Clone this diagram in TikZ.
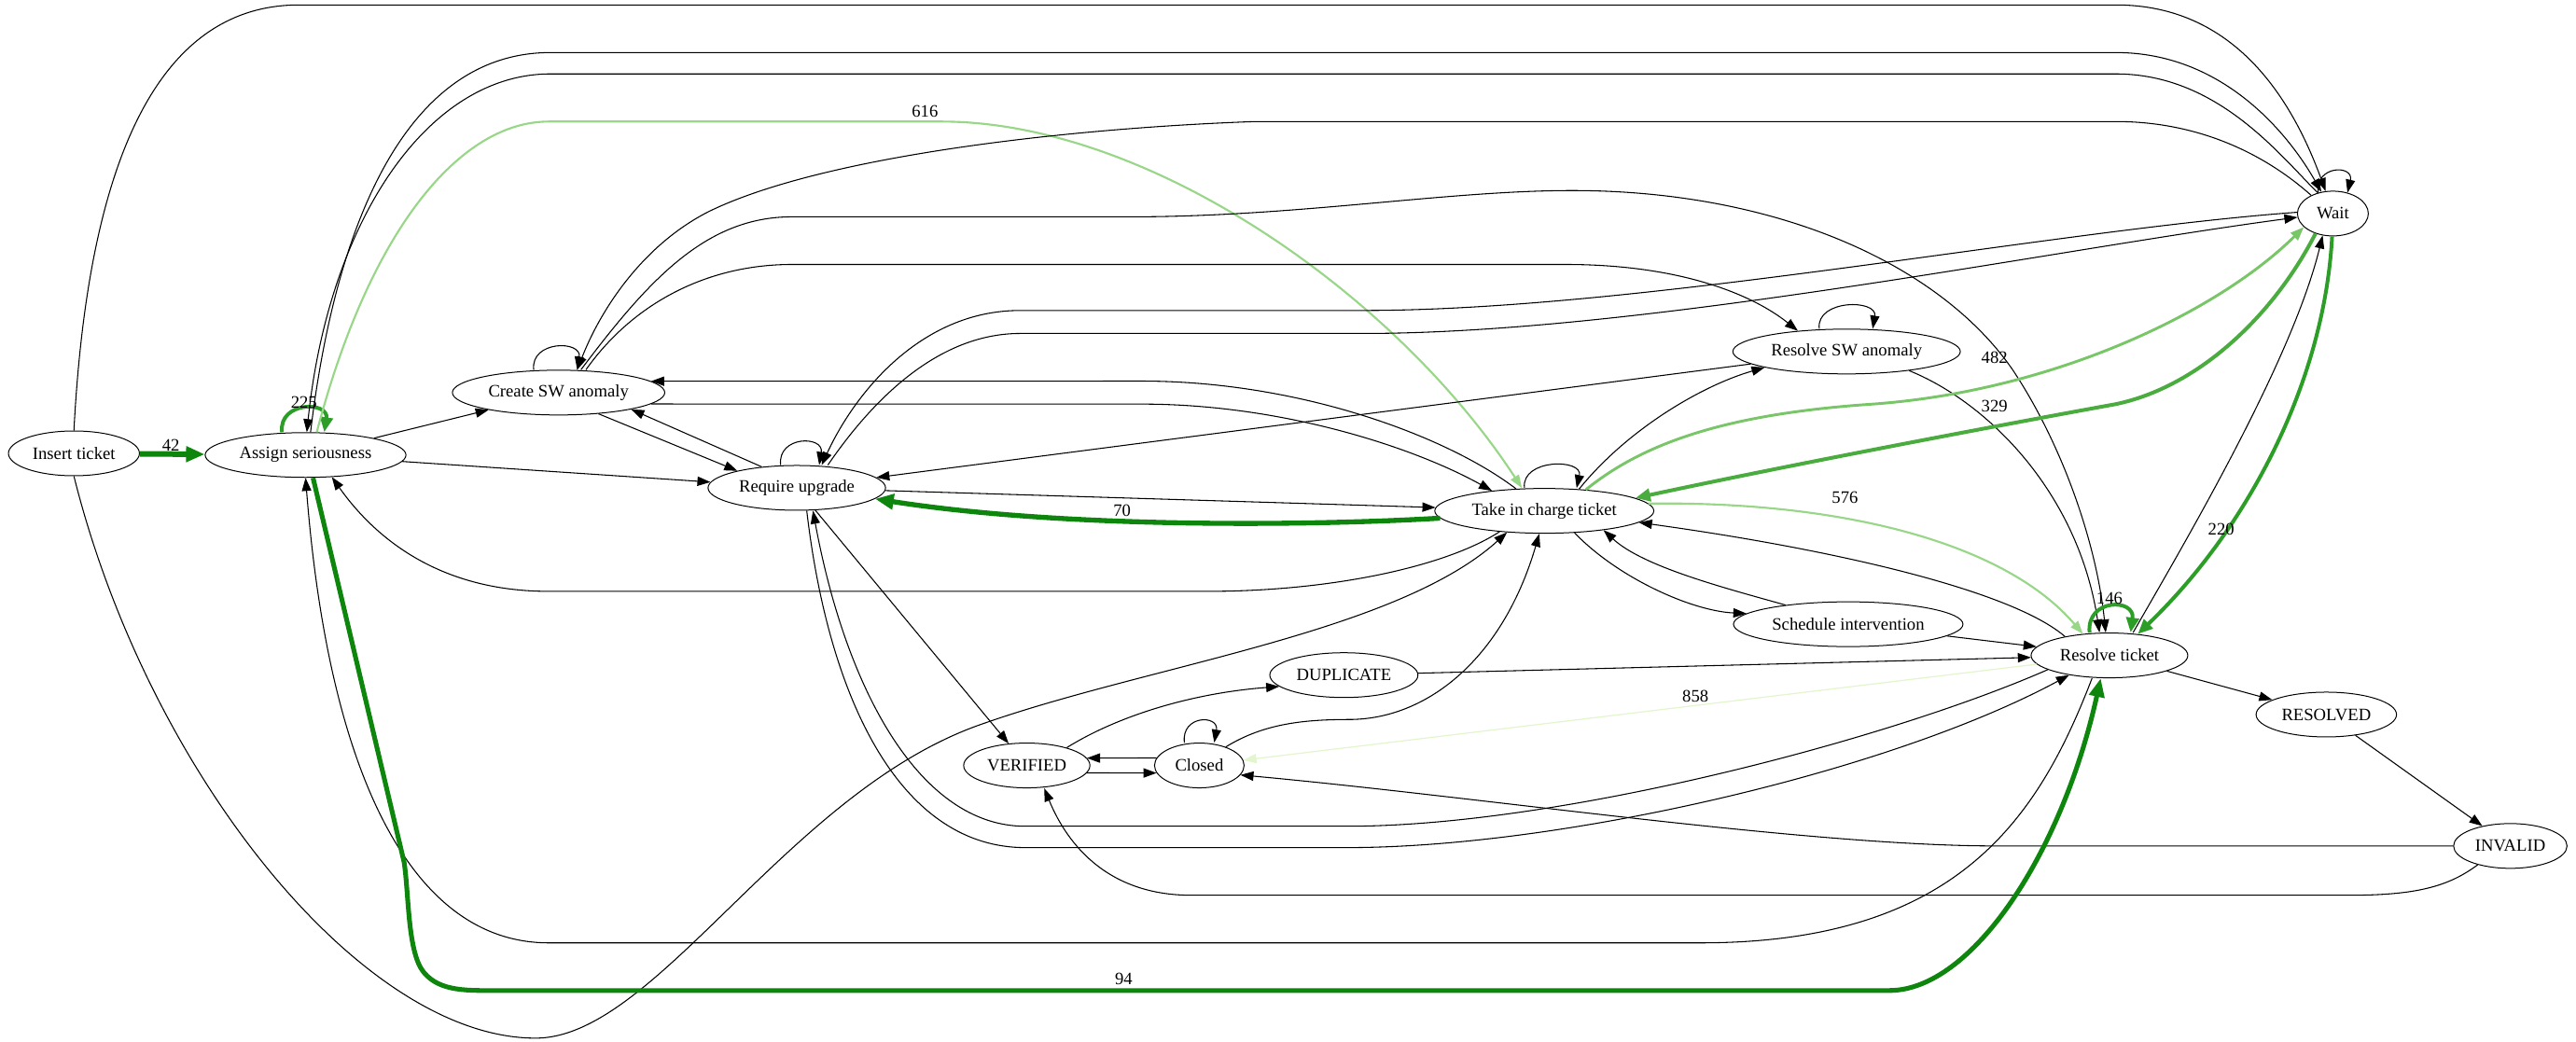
\documentclass[tikz,border=0pt]{standalone}
\usepackage{fontspec}
\setmainfont{Liberation Serif}
\usetikzlibrary{shapes.geometric,arrows.meta}
\definecolor{cdark}{RGB}{14,134,14}
\definecolor{cmid}{RGB}{44,158,40}
\definecolor{cmed}{RGB}{74,172,62}
\definecolor{clight}{RGB}{120,198,104}
\definecolor{cpale}{RGB}{152,214,136}
\definecolor{cfaint}{RGB}{226,245,204}

\begin{document}
\begin{tikzpicture}[x=1.3208pt,y=-1.3208pt,
    state/.style={draw,ellipse,line width=0.75pt,minimum height=36pt,minimum width=54pt,
      inner xsep=4pt,inner ysep=1pt,font=\fontsize{14}{16}\selectfont},
    lbl/.style={inner sep=0pt,font=\fontsize{14}{16}\selectfont},
    tr/.style={line width=0.8pt,-{Triangle[length=10.5pt,width=7.5pt]}},
    gheavy/.style={draw=cdark,line width=4pt,-{Triangle[length=15pt,width=12pt]}},
    gmid/.style={draw=cmid,line width=3pt,-{Triangle[length=12pt,width=10pt]}},
    gmed/.style={draw=cmed,line width=3pt,-{Triangle[length=12pt,width=10pt]}},
    glight/.style={draw=clight,line width=2.2pt,-{Triangle[length=11pt,width=8pt]}},
    gpale/.style={draw=cpale,line width=1.6pt,-{Triangle[length=10.5pt,width=7.5pt]}},
    gfaint/.style={draw=cfaint,line width=0.9pt,-{Triangle[length=10.5pt,width=7.5pt]}}]
    \useasboundingbox (0,0) rectangle (1568,634);

    \node[state] (insert) at (45,276) {Insert ticket};
    \node[state] (assign) at (186,277) {Assign seriousness};
    \node[state] (create) at (340,239) {Create SW anomaly};
    \node[state] (require) at (485,297) {Require upgrade};
    \node[state] (take) at (940,311) {Take in charge ticket};
    \node[state] (resolvesw) at (1124,214) {Resolve SW anomaly};
    \node[state,minimum width=57pt] (wait) at (1420,130) {Wait};
    \node[state] (schedule) at (1125,380) {Schedule intervention};
    \node[state,minimum width=126pt] (resolve) at (1284,399) {Resolve ticket};
    \node[state] (resolved) at (1416,435) {RESOLVED};
    \node[state] (invalid) at (1528,515) {INVALID};
    \node[state] (duplicate) at (818,411) {DUPLICATE};
    \node[state] (verified) at (625,466) {VERIFIED};
    \node[state,minimum width=72pt] (closed) at (730,466) {Closed};

    \draw[gheavy,line width=4.5pt] (insert) -- (assign);
    \node[lbl] (n42) at (104,271) {42};
    \draw[gmid] ([xshift=-19pt]assign.north) .. controls +(-2,-19) and +(3,-19) .. ([xshift=15pt]assign.north);
    \node[lbl] (n225) at (185,245) {225};

    \draw[tr] (insert.north) .. controls (55,70) and (110,3) .. (182,3) -- (1288,3) .. controls (1360,3) and (1395,60) .. (wait.108);
    \draw[tr] ([xshift=4pt]assign.north) .. controls (205,130) and (250,32) .. (335,32) -- (1288,32) .. controls (1352,32) and (1392,80) .. (wait.118);
    \draw[tr] (wait.126) .. controls (1388,95) and (1350,45) .. (1288,45) -- (335,45) .. controls (260,45) and (200,135) .. ([xshift=1pt]assign.north);
    \draw[gpale] ([xshift=9pt]assign.north) .. controls (225,140) and (280,74) .. (334,74) -- (573,74) .. controls (700,74) and (850,180) .. ([xshift=-18pt]take.north);
    \node[lbl] (n616) at (563,68) {616};
    \draw[tr] (wait.140) .. controls (1380,95) and (1340,74) .. (1288,74) -- (764,74) .. controls (650,78) and (500,95) .. (431,129) .. controls (390,150) and (365,190) .. ([xshift=15pt]create.north);

    \draw[tr] ([xshift=-20pt]create.north) .. controls +(-2,-18) and +(3,-18) .. ([xshift=15pt]create.north);
    \draw[tr] ([xshift=18pt]create.north) .. controls (395,170) and (430,132) .. (482,132) -- (688,132) .. controls (790,132) and (880,116) .. (957,116) .. controls (1080,116) and (1180,160) .. (1225,225) .. controls (1255,270) and (1276,330) .. ([xshift=-3pt]resolve.north);
    \draw[tr] ([xshift=22pt]create.north) .. controls (385,185) and (430,161) .. (482,161) -- (953,161) .. controls (1020,161) and (1065,178) .. (resolvesw.157);
    \draw[tr] (assign) -- (create);
    \draw[tr] (assign) -- (require);
    \draw[tr] (create.-28) -- (require.164);
    \draw[tr] (require.149) -- (create.-13);
    \draw[tr] (take.142) .. controls (880,265) and (790,232) .. (695,232) -- (create.7);
    \draw[tr] (create.-7) -- (695,246) .. controls (780,246) and (860,272) .. (take.159);

    \draw[tr] ([xshift=-13pt]require.north) .. controls +(-2,-18) and +(3,-18) .. ([xshift=18pt]require.north);
    \draw[tr] (wait.178) .. controls (1250,140) and (1000,189) .. (830,189) -- (621,189) .. controls (560,189) and (520,240) .. ([xshift=20pt]require.north);
    \draw[tr] ([xshift=25pt]require.north) .. controls (530,245) and (570,203) .. (621,203) -- (830,203) .. controls (1000,203) and (1250,152) .. (wait.186);
    \draw[tr] (require) -- (take);
    \draw[gheavy] (take.184) .. controls (800,320) and (650,322) .. (require.-8);
    \node[lbl] (n70) at (683,311) {70};
    \draw[tr] (resolvesw) -- (require);
    \draw[tr] (require) -- (verified);

    \draw[tr] ([xshift=-16pt]take.north) .. controls +(-2,-18) and +(4,-18) .. ([xshift=26pt]take.north);
    \draw[tr] (take.32) .. controls (990,262) and (1035,235) .. (resolvesw.191);
    \draw[tr] ([xshift=-22pt]resolvesw.north) .. controls +(-2,-18) and +(3,-18) .. ([xshift=21pt]resolvesw.north);
    \draw[tr] (resolvesw.-17) .. controls (1210,245) and (1265,300) .. ([xshift=-8pt]resolve.north);
    \draw[glight] (take.27) .. controls (1000,270) and (1050,252) .. (1140,246) .. controls (1250,238) and (1350,190) .. (wait.205);
    \node[lbl] (n482) at (1214,218) {482};
    \draw[gmed] (wait.229) .. controls (1385,190) and (1340,235) .. (1288,246) .. controls (1200,262) and (1080,285) .. (take.8);
    \node[lbl] (n329) at (1214,247) {329};
    \draw[tr] (wait.125) .. controls +(-2,-17) and +(4,-17) .. (wait.55);
    \draw[gpale] (take.4) .. controls (1120,305) and (1220,330) .. (resolve.141);
    \node[lbl] (n576) at (1123,303) {576};
    \draw[gmid] ([xshift=-16pt]resolve.north) .. controls +(-2,-21) and +(3,-21) .. ([xshift=17pt]resolve.north);
    \node[lbl] (n146) at (1284,364) {146};
    \draw[tr] ([xshift=19pt]resolve.north) .. controls (1330,330) and (1395,220) .. (wait.245);
    \draw[gmid] (wait.268) .. controls (1415,230) and (1370,320) .. (resolve.37);
    \node[lbl] (n220) at (1352,322) {220};

    \draw[tr] (take.-36) .. controls (985,352) and (1030,372) .. (schedule.174);
    \draw[tr] (schedule.163) .. controls (1050,358) and (1000,345) .. (take.-18);
    \draw[tr] (schedule) -- (resolve);
    \draw[tr] (resolve.157) .. controls (1225,360) and (1120,335) .. (take.-7);
    \draw[tr] (duplicate) -- (resolve);
    \draw[tr] (resolve) -- (resolved);
    \draw[tr] (resolved) -- (invalid);
    \draw[gfaint] (resolve) -- (closed);
    \node[lbl] (n858) at (1032,424) {858};

    \draw[tr] (verified.24) .. controls (680,436) and (725,422) .. (duplicate.190);
    \draw[tr] (closed.170) -- (verified.7);
    \draw[tr] (verified.-7) -- (closed.190);
    \draw[tr] ([xshift=-12pt]closed.north) .. controls +(-2,-17) and +(3,-17) .. ([xshift=12pt]closed.north);
    \draw[tr] (closed.35) .. controls (770,440) and (795,438) .. (823,438) .. controls (870,437) and (915,400) .. ([xshift=-4pt]take.south);
    \draw[tr] (invalid.west) -- (1215,515) .. controls (1100,515) and (900,485) .. (closed.-13);
    \draw[tr] (invalid.210) .. controls (1490,540) and (1470,545) .. (1430,545) -- (725,545) .. controls (675,545) and (650,515) .. ([xshift=14pt]verified.south);

    \draw[tr] (insert.south) .. controls (90,470) and (220,632) .. (326,632) .. controls (400,632) and (480,480) .. (600,440) .. controls (700,405) and (850,385) .. (take.210);
    \draw[tr] (take.205) .. controls (880,345) and (810,360) .. (735,360) -- (334,360) .. controls (270,360) and (230,330) .. (assign.-40);
    \draw[tr] (resolve.193) .. controls (1150,450) and (950,503) .. (820,503) -- (624,503) .. controls (560,503) and (515,420) .. ([xshift=13pt]require.south);
    \draw[tr] ([xshift=8pt]require.south) .. controls (505,430) and (550,516) .. (624,516) -- (820,516) .. controls (950,516) and (1150,470) .. (resolve.206);
    \draw[tr] ([xshift=-14pt]resolve.south) .. controls (1240,500) and (1190,574) .. (1035,574) -- (334,574) .. controls (250,574) and (200,470) .. (assign.south);
    \draw[gheavy,line width=3.8pt] ([xshift=6pt]assign.south) -- (246,525) .. controls (249,545) and (248,580) .. (258,592) .. controls (268,604) and (285,603) .. (305,603) -- (1150,603) .. controls (1200,603) and (1255,520) .. ([xshift=-7pt]resolve.south);
    \node[lbl] (n94) at (684,596) {94};
\end{tikzpicture}
\end{document}
